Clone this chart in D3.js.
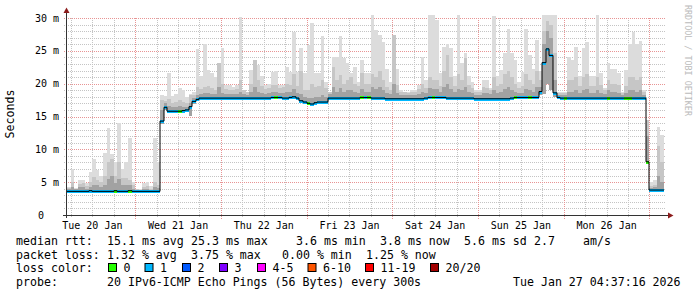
<!DOCTYPE html>
<html>
<head>
<meta charset="utf-8">
<script src="https://cdn.jsdelivr.net/npm/d3@7"></script>
<style>
body { margin: 0; background: #fff; }
text { font-family: "DejaVu Sans Mono", monospace; }
</style>
</head>
<body>
<script>
// hourly bins, first bin starts Tue 20 Jan 04:00 (UTC), 168 bins
var medianRtt = [
	3.6,3.6,3.6,3.6,3.6,3.6,3.6,3.7,3.6,3.6,3.6,3.6,
	3.6,3.6,3.7,3.6,3.6,3.6,3.7,3.6,3.6,3.6,3.6,3.6,
	3.6,3.6,3.6,14.3,16.4,15.8,15.8,15.8,15.8,15.9,16.0,16.5,
	17.3,17.6,17.8,17.8,17.8,17.8,17.8,17.8,17.8,17.8,17.8,17.8,
	17.8,17.8,17.8,17.8,17.8,17.8,17.8,17.8,17.8,17.8,17.9,17.9,
	17.9,17.8,17.8,17.9,18.0,17.8,17.4,17.2,17.0,16.9,17.1,17.2,
	17.2,17.2,17.8,17.8,17.8,17.8,17.8,17.8,17.8,17.8,17.8,17.9,
	17.9,17.9,17.8,17.8,17.8,17.8,17.7,17.7,17.7,17.7,17.7,17.7,
	17.7,17.7,17.7,17.7,17.7,17.8,17.9,17.9,17.9,17.9,17.9,17.8,
	17.8,17.8,17.8,17.8,17.8,17.8,17.8,17.7,17.7,17.7,17.7,17.7,
	17.7,17.7,17.7,17.7,17.7,17.8,17.9,17.9,17.9,17.9,17.9,17.9,
	17.9,18.8,23.2,25.3,24.3,18.6,17.9,17.8,17.8,17.8,17.8,17.8,
	17.8,17.8,17.8,17.8,17.8,17.8,17.8,17.8,17.8,17.8,17.8,17.8,
	17.8,17.8,17.8,17.8,17.8,17.8,17.8,8.1,3.8,3.8,3.8,3.8
];
// pings lost out of 20, per bin
var lostPings = [
	1,1,1,1,1,1,1,1,1,1,1,1,
	1,1,0,1,1,1,0,1,1,1,1,1,
	1,1,1,1,1,1,1,1,0,1,1,1,
	1,1,1,1,1,1,1,1,1,1,1,1,
	1,1,1,1,1,1,1,1,1,1,1,0,
	1,1,1,1,1,1,1,1,0,1,1,1,
	1,1,1,1,1,1,1,1,1,1,1,0,
	1,0,1,1,1,1,1,1,1,1,1,1,
	1,1,1,1,1,1,1,0,1,1,1,1,
	1,1,1,1,1,1,1,1,1,1,1,1,
	1,1,1,1,1,1,0,1,1,1,0,1,
	1,1,1,1,1,1,1,1,0,1,1,1,
	1,1,1,1,1,1,1,1,0,1,1,1,
	1,0,0,1,1,1,1,0,1,1,1,1
];
// smoke: slowest ping, ~90th and ~75th percentile, fastest ping
var rttMax = [
	4.0,4.2,7.0,4.1,5.3,5.3,4.8,6.5,8.5,6.8,6.0,9.5,
	13.2,9.3,8.1,14.0,7.0,8.1,11.8,5.0,4.0,3.9,4.9,5.1,
	4.4,11.7,8.1,18.3,18.1,21.6,18.1,18.5,19.4,19.0,18.0,18.5,
	18.8,25.3,21.1,26.1,22.1,21.6,21.0,23.1,25.4,19.8,19.8,19.5,
	19.8,30.1,19.0,18.8,22.1,23.6,22.8,21.1,19.8,20.0,21.8,22.0,
	19.8,19.8,22.5,21.8,27.9,21.8,25.4,21.6,25.9,29.3,21.6,21.6,
	27.2,20.3,18.8,24.1,24.1,27.2,23.9,23.1,21.6,22.6,20.3,23.6,
	21.6,21.6,30.4,28.2,27.4,26.4,22.3,20.3,27.4,22.2,19.0,18.8,
	18.8,19.0,19.0,19.8,24.1,20.6,30.4,30.4,29.7,21.6,25.6,26.1,
	25.4,21.1,30.4,23.1,24.6,21.1,20.3,19.0,19.0,20.6,20.6,19.3,
	30.3,21.1,22.1,24.6,28.4,24.6,23.6,20.3,21.8,28.4,24.4,22.3,
	26.6,22.0,30.4,30.4,30.4,30.4,18.8,18.8,18.8,24.1,23.6,25.6,
	21.1,25.4,26.4,21.1,21.1,30.4,21.6,19.3,23.1,22.3,22.3,21.6,
	18.8,22.1,26.1,27.9,26.1,26.5,19.0,14.5,5.1,5.3,13.4,12.2
];
var rttHi = [
	4.0,4.1,5.0,4.0,4.7,4.8,4.4,5.0,5.8,5.4,5.0,6.0,
	8.0,8.5,6.0,8.0,5.6,5.6,5.4,4.5,3.9,3.8,4.2,4.4,
	4.0,5.0,4.6,17.5,17.4,17.6,17.0,17.2,17.5,17.2,17.0,18.3,
	18.2,19.5,19.2,19.5,19.6,19.3,19.0,23.1,20.0,19.2,19.0,19.0,
	19.2,20.5,19.0,18.8,20.0,23.6,20.5,19.6,19.2,19.4,19.8,19.8,
	19.4,19.5,20.0,19.8,21.5,19.6,22.0,19.0,19.0,20.0,19.5,19.6,
	20.5,19.4,18.8,22.6,20.5,21.3,20.0,20.5,21.0,20.0,19.6,21.7,
	20.0,20.0,21.5,21.0,22.0,20.5,19.5,19.0,27.4,19.8,18.8,18.7,
	18.6,18.7,18.8,19.2,20.0,19.4,21.0,20.5,20.5,19.6,22.0,24.4,
	21.0,19.6,21.5,20.5,23.9,19.8,19.4,18.8,18.8,19.5,19.4,19.0,
	21.0,19.6,20.0,21.5,22.0,21.0,20.0,19.4,19.6,21.5,20.5,20.0,
	22.0,20.5,28.0,29.5,29.0,24.6,18.6,18.6,18.6,20.5,20.5,21.0,
	19.6,21.0,21.5,19.6,19.6,21.0,19.8,19.0,20.5,20.0,20.0,19.8,
	18.6,19.6,21.0,21.0,20.5,21.0,18.8,14.5,4.4,4.6,10.5,8.0
];
var rttUp = [
	3.9,3.9,4.3,3.9,4.2,4.2,4.0,4.3,4.6,4.5,4.3,4.6,
	5.5,6.0,4.8,5.5,4.6,4.6,4.5,4.0,3.8,3.8,4.0,4.0,
	3.8,4.2,4.1,16.0,17.0,16.6,16.4,16.5,16.6,16.5,16.5,17.0,
	17.8,18.2,18.5,18.6,18.6,18.5,18.4,19.5,18.6,18.4,18.4,18.4,
	18.5,18.8,18.4,18.3,18.8,19.5,18.8,18.6,18.5,18.6,18.8,18.8,
	18.6,18.6,18.8,18.8,19.2,18.6,18.5,18.0,17.8,17.8,18.0,18.0,
	18.2,18.0,18.4,19.5,18.8,19.4,18.8,19.0,19.0,18.8,18.6,19.2,
	18.8,18.8,19.5,19.2,19.5,19.0,18.6,18.4,20.0,18.6,18.3,18.2,
	18.2,18.2,18.3,18.5,18.8,18.6,19.4,19.2,19.2,18.8,19.5,20.0,
	19.2,18.8,19.2,19.0,19.5,18.8,18.6,18.3,18.3,18.6,18.6,18.4,
	19.0,18.6,18.8,19.2,19.5,19.0,18.8,18.6,18.6,19.2,19.0,18.8,
	19.5,19.5,26.0,28.0,27.0,20.5,18.3,18.3,18.3,18.8,18.8,19.0,
	18.6,19.0,19.2,18.6,18.6,19.0,18.6,18.4,19.0,18.8,18.8,18.6,
	18.3,18.6,19.0,19.0,18.8,19.0,18.3,12.0,4.1,4.2,6.0,5.0
];
var rttMin = [
	3.4,3.4,3.4,3.4,3.4,3.4,3.4,3.5,3.4,3.4,3.4,3.4,
	3.4,3.4,3.5,3.4,3.4,3.4,3.5,3.4,3.4,3.4,3.4,3.4,
	3.4,3.4,3.4,13.8,16.0,15.5,15.5,15.5,15.5,15.6,15.7,15.1,
	16.9,17.3,17.6,17.6,17.6,17.6,17.6,17.6,17.6,17.6,17.6,17.6,
	17.6,17.6,17.6,17.6,17.6,17.6,17.6,17.6,17.6,17.6,17.7,17.7,
	17.7,17.6,17.6,17.7,17.8,17.6,17.2,17.0,16.8,16.7,16.9,17.0,
	17.0,17.0,17.6,17.6,17.6,17.6,17.6,17.6,17.6,17.6,17.6,17.7,
	17.7,17.7,17.6,17.6,17.6,17.6,17.5,17.5,17.5,17.5,17.5,17.5,
	17.5,17.5,17.5,17.5,17.5,17.6,17.7,17.7,17.7,17.7,17.7,17.6,
	17.6,17.6,17.6,17.6,17.6,17.6,17.6,17.5,17.5,17.5,17.5,17.5,
	17.5,17.5,17.5,17.5,17.5,17.6,17.7,17.7,17.7,17.7,17.7,17.7,
	17.7,18.3,18.5,20.0,19.0,17.9,17.7,17.6,17.6,17.6,17.6,17.6,
	17.6,17.6,17.6,17.6,17.6,17.6,17.6,17.6,17.6,17.6,17.6,17.6,
	17.6,17.6,17.6,17.6,17.6,17.6,17.6,7.9,3.6,3.6,3.6,3.6
];

var yTicks = [0, 5, 10, 15, 20, 25, 30];
var yTickLabels = ["0", "5 m", "10 m", "15 m", "20 m", "25 m", "30 m"];

// loss legend
var lossLabels = ["0", "1", "2", "3", "4-5", "6-10", "11-19", "20/20"];
var lossColors = ["#26ff00", "#00b8ff", "#0059ff", "#7e00ff", "#ff00ff", "#ff5500", "#ff0000", "#a10000"];

var statsRtt = ["median rtt:", "15.1 ms avg", "25.3 ms max", "3.6 ms min", "3.8 ms now", "5.6 ms sd", "2.7", "am/s"];
var statsLoss = ["packet loss:", "1.32 % avg", "3.75 % max", "0.00 % min", "1.25 % now"];
var probeText = ["probe:", "20 IPv6-ICMP Echo Pings (56 Bytes) every 300s", "Tue Jan 27 04:37:16 2026"];

var w = 697, h = 297;
var HOUR = 3600e3;
var tEnd = Date.UTC(2026, 0, 27, 4, 37, 16);
var tStart = tEnd - 168 * HOUR;
var binStart = Date.UTC(2026, 0, 20, 4, 0, 0);

var svg = d3.select("body").append("svg")
	.attr("width", w)
	.attr("height", h)
	.style("display", "block");

svg.append("rect").attr("width", w).attr("height", h).attr("fill", "#fff");

var x = d3.scaleUtc().domain([tStart, tEnd]).range([66, 666]);
var y = d3.scaleLinear().domain([0, 30]).range([215, 18]);

//dotted grid done with 1px-on 1px-off patterns so the dots stay sharp
var minorCol = "#c4c4c4", majorCol = "#e89494";
var defs = svg.append("defs");
function dotPattern(id, col, horiz){
	var p = defs.append("pattern")
		.attr("id", id)
		.attr("patternUnits", "userSpaceOnUse")
		.attr("width", horiz ? 2 : 1)
		.attr("height", horiz ? 1 : 2);
	p.append("rect").attr("width", 1).attr("height", 1).attr("fill", col);
}
dotPattern("hMinor", minorCol, true);
dotPattern("hMajor", majorCol, true);
dotPattern("vMinor", minorCol, false);
dotPattern("vMajor", majorCol, false);

var grid = svg.append("g").attr("shape-rendering", "crispEdges");
function hLine(v, x1, id){
	grid.append("rect")
		.attr("x", x1).attr("width", 666 - x1)
		.attr("y", Math.round(y(v))).attr("height", 1)
		.attr("fill", "url(#" + id + ")");
}
function vLine(t, y2, id){
	grid.append("rect")
		.attr("x", Math.round(x(t))).attr("width", 1)
		.attr("y", 18).attr("height", y2 - 18)
		.attr("fill", "url(#" + id + ")");
}

d3.range(1, 31).filter(function(v){ return v % 5 != 0; }).forEach(function(v){ hLine(v, 64, "hMinor"); });
d3.utcHour.every(6).range(new Date(tStart), new Date(tEnd)).forEach(function(t){
	if (t.getUTCHours() != 0) vLine(t, 218, "vMinor");
});
yTicks.slice(1).forEach(function(v){ hLine(v, 63, "hMajor"); });
d3.utcDay.range(new Date(tStart), new Date(tEnd)).forEach(function(t){ vLine(t, 219, "vMajor"); });

//one record per hourly bin
var bins = medianRtt.map(function(m, k){
	var t0 = binStart + k * HOUR;
	return {
		x0: Math.max(67, x(t0)),
		x1: x(t0 + HOUR),
		med: m,
		lost: lostPings[k],
		max: rttMax[k], hi: rttHi[k], up: rttUp[k], min: rttMin[k]
	};
});

//smoke layers
var plot = svg.append("g").attr("shape-rendering", "crispEdges");
var layers = [
	{top: "max", color: "#dcdcdc"},
	{top: "hi", color: "#c6c6c6"},
	{top: "up", color: "#a2a2a2"}
];
layers.forEach(function(l){
	plot.selectAll(null)
		.data(bins)
		.enter()
		.append("rect")
		.attr("x", function(d){ return Math.round(d.x0); })
		.attr("width", function(d){ return Math.round(d.x1) - Math.round(d.x0); })
		.attr("y", function(d){ return Math.round(y(Math.min(d[l.top], 30.5))); })
		.attr("height", function(d){ return Math.max(0, Math.round(y(d.min)) - Math.round(y(Math.min(d[l.top], 30.5)))); })
		.attr("fill", l.color);
});

//median as a black step line under the loss coloured band
var stepPts = bins.map(function(d){ return [Math.round(d.x0), y(d.med)]; });
stepPts.push([Math.round(bins[bins.length - 1].x1), y(bins[bins.length - 1].med)]);
svg.append("path")
	.attr("d", d3.line().curve(d3.curveStepAfter)(stepPts))
	.attr("fill", "none")
	.attr("stroke", "#000")
	.attr("stroke-width", 1);

function lossColor(n){
	if (n <= 3) return lossColors[n];
	if (n <= 5) return lossColors[4];
	if (n <= 10) return lossColors[5];
	if (n <= 19) return lossColors[6];
	return lossColors[7];
}

plot.selectAll(".med")
	.data(bins)
	.enter()
	.append("rect")
	.attr("class", "med")
	.attr("x", function(d){ return Math.round(d.x0); })
	.attr("width", function(d){ return Math.round(d.x1) - Math.round(d.x0); })
	.attr("y", function(d){ return Math.round(y(d.med)) - 1; })
	.attr("height", 3)
	.attr("fill", function(d){ return lossColor(d.lost); });

//axes
var axisCol = "#333";
svg.append("line").attr("x1", 63).attr("x2", 669).attr("y1", 215.5).attr("y2", 215.5)
	.attr("stroke", axisCol);
svg.append("line").attr("x1", 66.5).attr("x2", 66.5).attr("y1", 12).attr("y2", 218)
	.attr("stroke", axisCol);
svg.append("path").attr("d", "M63.5,13L69.5,13L66.5,7.5Z").attr("fill", "#8c1c1c");
svg.append("path").attr("d", "M668,212.5L668,218.5L673.5,215.5Z").attr("fill", "#8c1c1c");

//y labels
svg.selectAll(".ylab")
	.data(yTicks)
	.enter()
	.append("text")
	.attr("class", "ylab")
	.attr("x", function(d){ return d == 0 ? 38 : 59; })
	.attr("y", function(d){ return y(d) + 3.5; })
	.attr("text-anchor", function(d){ return d == 0 ? "start" : "end"; })
	.attr("font-size", "10px")
	.attr("fill", "#000")
	.text(function(d, i){ return yTickLabels[i]; });

//day labels at noon
var fmt = d3.utcFormat("%a %d Jan");
svg.selectAll(".xlab")
	.data(d3.utcDay.range(new Date(tStart - 12 * HOUR), new Date(tEnd)).map(function(t){ return new Date(+t + 12 * HOUR); })
		.filter(function(t){ return +t > tStart && +t < tEnd; }))
	.enter()
	.append("text")
	.attr("class", "xlab")
	.attr("x", function(d){ return x(d); })
	.attr("y", 228.5)
	.attr("text-anchor", "middle")
	.attr("font-size", "10px")
	.attr("fill", "#000")
	.text(function(d){ return fmt(d); });

svg.append("text")
	.attr("transform", "translate(14,114) rotate(-90)")
	.attr("text-anchor", "middle")
	.attr("font-size", "11.6px")
	.text("Seconds");

svg.append("text")
	.attr("transform", "translate(685,5) rotate(90)")
	.attr("font-size", "8.4px")
	.attr("fill", "#bbb")
	.text("RRDTOOL / TOBI OETIKER");

//legend
var lg = svg.append("g").attr("font-size", "11.6px").attr("fill", "#000");
var col = [16, 107, 191, 296, 380, 464, 534, 583];
statsRtt.forEach(function(s, i){
	lg.append("text").attr("x", col[i]).attr("y", 245).text(s);
});
var col2 = [16, 107, 191, 282, 366];
statsLoss.forEach(function(s, i){
	lg.append("text").attr("x", col2[i]).attr("y", 258.5).text(s);
});
lg.append("text").attr("x", 16).attr("y", 272).text("loss color:");
var boxX = [108, 144.5, 182, 219, 257, 307.5, 365, 430];
lossLabels.forEach(function(s, i){
	lg.append("rect")
		.attr("x", boxX[i] + 0.5).attr("y", 263.5)
		.attr("width", 8).attr("height", 8)
		.attr("fill", lossColors[i])
		.attr("stroke", "#000");
	lg.append("text").attr("x", boxX[i] + 15.5).attr("y", 272).text(s);
});
lg.append("text").attr("x", 16).attr("y", 286).text(probeText[0]);
lg.append("text").attr("x", 107).attr("y", 286).text(probeText[1]);
lg.append("text").attr("x", 513).attr("y", 286).text(probeText[2]);
</script>
</body>
</html>
